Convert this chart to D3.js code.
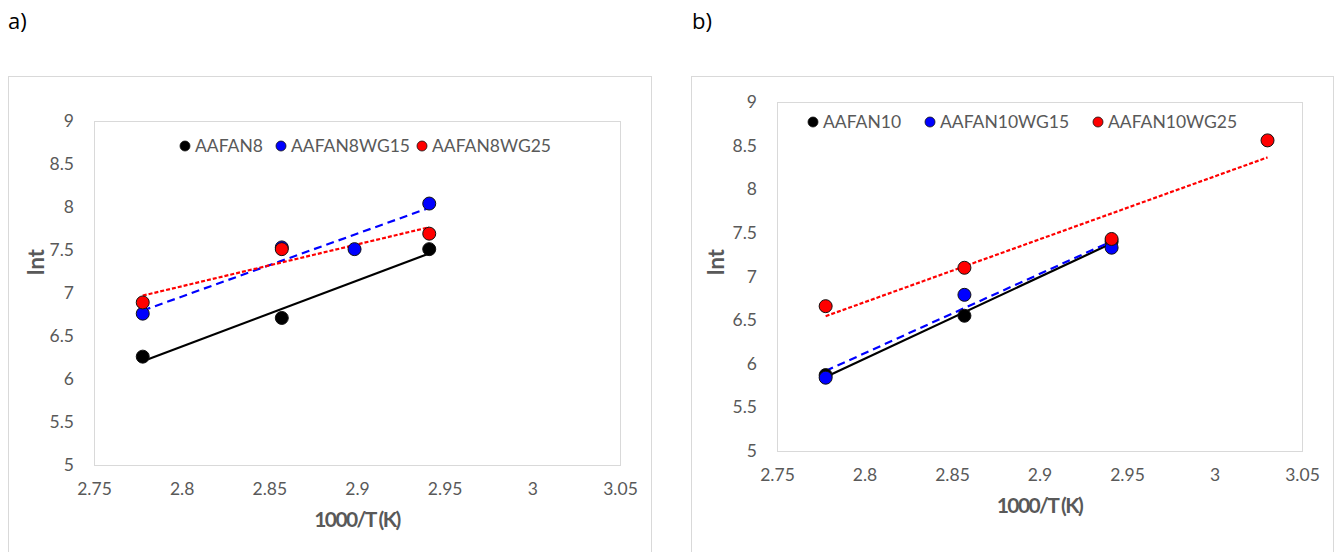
<!DOCTYPE html>
<html>
<head>
<meta charset="utf-8">
<script src="https://cdn.jsdelivr.net/npm/d3@7"></script>
<style>
  body { margin: 0; background: #fff; }
  svg text { font-family: Lato, "Open Sans", sans-serif; }
</style>
</head>
<body>
<svg id="chart" width="1335" height="552"></svg>
<script>
// x values are 1000/T for 360, 350, 345, 340, 330 K
const xA = [2.7778, 2.8571, 2.9412];
const xA15 = [2.7778, 2.8571, 2.8986, 2.9412];
const xB = [2.7778, 2.8571, 2.9412];
const xB25 = [2.7778, 2.8571, 2.9412, 3.0303];

// panel a)
const aafan8 = [6.26, 6.71, 7.51];
const aafan8wg15 = [6.76, 7.53, 7.51, 8.04];
const aafan8wg25 = [6.89, 7.51, 7.69];

// panel b)
const aafan10 = [5.87, 6.55, 7.40];
const aafan10wg15 = [5.84, 6.79, 7.33];
const aafan10wg25 = [6.66, 7.10, 7.43, 8.56];

const xTicks = [2.75, 2.8, 2.85, 2.9, 2.95, 3, 3.05];
const yTicks = [5, 5.5, 6, 6.5, 7, 7.5, 8, 8.5, 9];

const grey = "#595959";
const svg = d3.select("#chart");

function fit(xs, ys) {
    // least squares line, like the spreadsheet trendline
    var mx = d3.mean(xs), my = d3.mean(ys);
    var sxy = d3.sum(xs, (x, i) => (x - mx) * (ys[i] - my));
    var sxx = d3.sum(xs, x => (x - mx) * (x - mx));
    var b = sxy / sxx;
    return x => my + b * (x - mx);
}

function drawPanel(p) {
    var g = svg.append("g");

    // panel letter
    svg.append("text")
        .attr("x", p.labelX).attr("y", 29)
        .attr("font-size", 22)
        .attr("fill", "#000")
        .style("font-family", "'Open Sans', sans-serif")
        .text(p.label);

    // outer chart frame
    g.append("rect")
        .attr("x", p.frame[0] + 0.5).attr("y", p.frame[1] + 0.5)
        .attr("width", p.frame[2]).attr("height", p.frame[3])
        .attr("fill", "#fff").attr("stroke", "#d9d9d9");

    var x = d3.scaleLinear().domain([2.75, 3.05]).range([p.left, p.right]);
    var y = d3.scaleLinear().domain([5, 9]).range([p.bottom, p.top]);

    // plot area border
    g.append("rect")
        .attr("x", p.left + 0.5).attr("y", p.top + 0.5)
        .attr("width", p.right - p.left).attr("height", p.bottom - p.top)
        .attr("fill", "none").attr("stroke", "#d9d9d9");

    // Append Y Axis
    var yAxis = g.append("g")
        .attr("transform", "translate(" + p.left + ",0)")
        .call(d3.axisLeft(y).tickValues(yTicks).tickSize(0).tickPadding(20).tickFormat(d3.format("")));
    yAxis.select(".domain").remove();

    // Append X Axis
    var xAxis = g.append("g")
        .attr("transform", "translate(0," + p.bottom + ")")
        .call(d3.axisBottom(x).tickValues(xTicks).tickSize(0).tickPadding(18).tickFormat(d3.format("")));
    xAxis.select(".domain").remove();

    g.selectAll(".tick text")
        .attr("fill", grey)
        .attr("font-size", 17.5)
        .style("font-family", "Lato, sans-serif");

    // axis titles
    g.append("text")
        .attr("x", (p.left + p.right) / 2)
        .attr("y", p.bottom + 62)
        .attr("text-anchor", "middle")
        .attr("font-size", 21)
        .attr("font-weight", "bold")
        .attr("letter-spacing", -1.6)
        .attr("fill", grey)
        .text("1000/T (K)");

    g.append("text")
        .attr("transform", "translate(" + p.ytitleX + "," + 262 + ") rotate(-90)")
        .attr("text-anchor", "middle")
        .attr("font-size", 22)
        .attr("font-weight", "bold")
        .attr("fill", grey)
        .text("lnt");

    // trendlines
    var line = d3.line().x(d => x(d[0])).y(d => y(d[1]));
    p.series.forEach(s => {
        var f = fit(s.xs, s.ys);
        var x0 = d3.min(s.xs), x1 = d3.max(s.xs);
        g.append("path")
            .attr("d", line([[x0, f(x0)], [x1, f(x1)]]))
            .attr("fill", "none")
            .attr("stroke", s.color)
            .attr("stroke-width", 2.2)
            .attr("stroke-dasharray", s.dash);
    });

    // points
    p.series.forEach(s => {
        g.append("g")
            .selectAll("circle")
            .data(s.ys)
            .enter()
            .append("circle")
            .attr("cx", (d, i) => x(s.xs[i]))
            .attr("cy", d => y(d))
            .attr("r", 6.5)
            .attr("fill", s.color)
            .attr("stroke", "#111")
            .attr("stroke-width", 1);
    });

    // legend
    var leg = g.append("g");
    p.series.forEach((s, i) => {
        leg.append("circle")
            .attr("cx", p.legendX[i])
            .attr("cy", p.legendY)
            .attr("r", 5)
            .attr("fill", s.color)
            .attr("stroke", "#111")
            .attr("stroke-width", 0.8);
        leg.append("text")
            .attr("x", p.legendX[i] + 10)
            .attr("y", p.legendY + 6)
            .attr("font-size", 17.5)
            .attr("fill", grey)
            .text(s.name);
    });
}

drawPanel({
    label: "a)", labelX: 8,
    frame: [8, 76, 643, 480],
    left: 94, right: 620, top: 121, bottom: 465,
    ytitleX: 44,
    legendY: 146, legendX: [185, 281, 422],
    series: [
        {name: "AAFAN8", xs: xA, ys: aafan8, color: "#000000", dash: null},
        {name: "AAFAN8WG15", xs: xA15, ys: aafan8wg15, color: "#0000ff", dash: "8,5"},
        {name: "AAFAN8WG25", xs: xA, ys: aafan8wg25, color: "#ff0000", dash: "4,2"}
    ]
});

drawPanel({
    label: "b)", labelX: 692,
    frame: [691, 76, 642, 480],
    left: 777, right: 1302, top: 102, bottom: 451,
    ytitleX: 724,
    legendY: 122, legendX: [813, 930, 1098],
    series: [
        {name: "AAFAN10", xs: xB, ys: aafan10, color: "#000000", dash: null},
        {name: "AAFAN10WG15", xs: xB, ys: aafan10wg15, color: "#0000ff", dash: "8,5"},
        {name: "AAFAN10WG25", xs: xB25, ys: aafan10wg25, color: "#ff0000", dash: "4,2"}
    ]
});
</script>
</body>
</html>
